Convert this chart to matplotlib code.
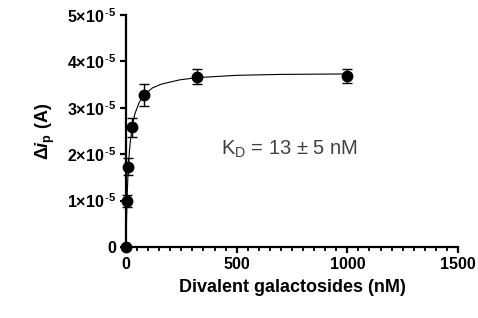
import matplotlib
matplotlib.use("Agg")
import matplotlib.pyplot as plt
from matplotlib.ticker import MultipleLocator
import numpy as np

plt.rcParams['font.family'] = ['Liberation Sans', 'DejaVu Sans']
plt.rcParams['mathtext.fontset'] = 'custom'
plt.rcParams['mathtext.rm'] = 'Liberation Sans'
plt.rcParams['mathtext.bf'] = 'Liberation Sans:bold'
plt.rcParams['mathtext.it'] = 'Liberation Sans:bold:italic'

# measured points (nM, A)
conc = [0, 5, 10, 25, 80, 320, 1000]
di_p = [0, 1.00e-5, 1.73e-5, 2.58e-5, 3.28e-5, 3.67e-5, 3.68e-5]
err = [0, 0.13e-5, 0.18e-5, 0.20e-5, 0.24e-5, 0.16e-5, 0.15e-5]

# fitted binding curve
fit_x = [0, 1, 2, 4, 6, 8, 10, 15, 20, 30, 40, 60, 80, 120, 160, 240, 320, 500, 700, 1000]
fit_y = [0, 0.27e-5, 0.51e-5, 0.89e-5, 1.20e-5, 1.45e-5, 1.65e-5, 2.04e-5, 2.30e-5,
         2.65e-5, 2.87e-5, 3.12e-5, 3.27e-5, 3.43e-5, 3.51e-5, 3.60e-5, 3.65e-5,
         3.70e-5, 3.72e-5, 3.73e-5]

yticks = [0, 1e-5, 2e-5, 3e-5, 4e-5, 5e-5]
ylabels = ['0'] + [r'$\mathbf{%d{\times}10}^{\,\mathbf{\text{-}5}}$' % k for k in range(1, 6)]
xticks = [0, 500, 1000, 1500]

fig = plt.figure(figsize=(4.78, 3.18), dpi=100)
ax = fig.add_axes([0.2636, 0.2233, 0.6945, 0.7295])

ax.plot(fit_x, fit_y, color='black', lw=0.8, clip_on=False, zorder=3)
ax.errorbar(conc, di_p, yerr=err, fmt='o', color='black', ms=7.5,
            capsize=3.5, elinewidth=1.0, capthick=1.0, clip_on=False, zorder=4)

ax.set_xlim(0, 1500)
ax.set_ylim(0, 5e-5)
ax.set_xticks(xticks)
ax.set_xticklabels([str(t) for t in xticks], fontweight='bold')
ax.xaxis.set_minor_locator(MultipleLocator(50))
ax.set_yticks(yticks)
ax.set_yticklabels(ylabels, fontweight='bold')

for s in ['top', 'right']:
    ax.spines[s].set_visible(False)
for s in ['left', 'bottom']:
    ax.spines[s].set_linewidth(1.6)

ax.tick_params(axis='both', which='major', direction='out', length=4, width=1.6,
               labelsize=11.5, pad=3)
ax.tick_params(axis='x', which='minor', direction='out', length=3, width=1.3)

ax.set_xlabel('Divalent galactosides (nM)', fontsize=13, fontweight='bold', labelpad=5)
ax.set_ylabel(r'$\mathbf{\Delta}\mathit{i}_\mathbf{p}$ (A)', fontsize=13,
              fontweight='bold', labelpad=7)

ax.text(740, 2.1e-5, r'K$_\mathrm{D}$ = 13 ± 5 nM', fontsize=14.5, color='#404040',
        ha='center', va='center')

fig.savefig('out.png', dpi=100)
